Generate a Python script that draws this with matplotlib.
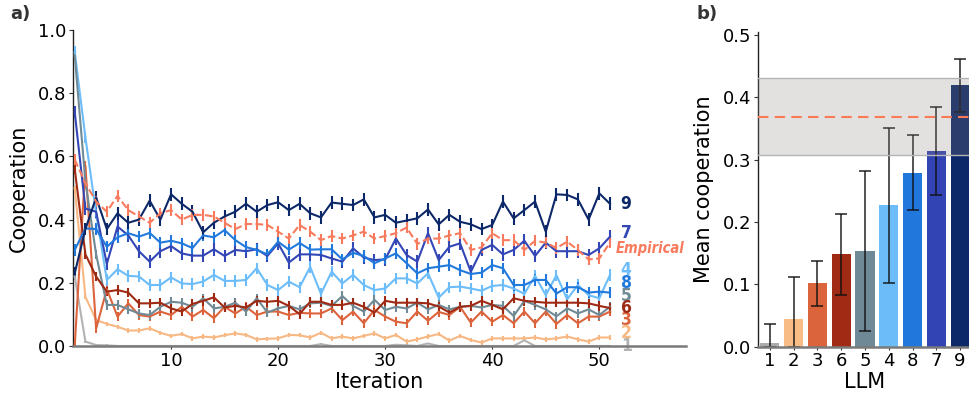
import matplotlib
matplotlib.use("Agg")
import matplotlib.pyplot as plt
from matplotlib import font_manager
import numpy as np

# ---------------- data ----------------
iterations = list(range(1, 52))

llm1 = [0.22, 0.014, 0.003, 0.002, 0.0, 0.0, 0.0, 0.0, 0.0, 0.0,
        0.0, 0.0, 0.0, 0.0, 0.0, 0.0, 0.0, 0.0, 0.0, 0.0,
        0.0, 0.0, 0.0, 0.006, 0.0, 0.0, 0.0, 0.0, 0.0, 0.0,
        0.004, 0.002, 0.0, 0.008, 0.0, 0.0, 0.0, 0.0, 0.0, 0.0,
        0.0, 0.0, 0.018, 0.0, 0.0, 0.0, 0.0, 0.0, 0.0, 0.0,
        0.0]
llm2 = [0.5, 0.156, 0.082, 0.07, 0.061, 0.049, 0.049, 0.056, 0.042, 0.032,
        0.038, 0.024, 0.03, 0.027, 0.034, 0.04, 0.035, 0.021, 0.023, 0.024,
        0.035, 0.034, 0.027, 0.042, 0.024, 0.03, 0.024, 0.032, 0.04, 0.024,
        0.035, 0.014, 0.021, 0.03, 0.038, 0.017, 0.032, 0.019, 0.011, 0.024,
        0.024, 0.024, 0.024, 0.027, 0.021, 0.024, 0.03, 0.021, 0.014, 0.027,
        0.027]
llm3 = [0.0, 0.57, 0.055, 0.18, 0.093, 0.135, 0.098, 0.093, 0.109, 0.098,
        0.124, 0.093, 0.114, 0.088, 0.124, 0.103, 0.124, 0.098, 0.109, 0.109,
        0.098, 0.105, 0.103, 0.103, 0.119, 0.082, 0.109, 0.072, 0.114, 0.093,
        0.077, 0.072, 0.109, 0.08, 0.108, 0.098, 0.124, 0.074, 0.109, 0.077,
        0.098, 0.072, 0.109, 0.072, 0.109, 0.07, 0.098, 0.072, 0.093, 0.093,
        0.109]
llm4 = [0.93, 0.66, 0.42, 0.209, 0.243, 0.222, 0.22, 0.193, 0.193, 0.217,
        0.198, 0.196, 0.204, 0.225, 0.206, 0.206, 0.209, 0.246, 0.193, 0.177,
        0.204, 0.186, 0.25, 0.165, 0.235, 0.198, 0.225, 0.193, 0.177, 0.182,
        0.214, 0.214, 0.198, 0.23, 0.153, 0.186, 0.188, 0.182, 0.175, 0.19,
        0.193, 0.182, 0.165, 0.222, 0.161, 0.224, 0.148, 0.193, 0.161, 0.151,
        0.225]
llm5 = [0.92, 0.52, 0.29, 0.13, 0.13, 0.116, 0.103, 0.098, 0.124, 0.14,
        0.137, 0.124, 0.151, 0.119, 0.124, 0.137, 0.109, 0.151, 0.106, 0.119,
        0.127, 0.116, 0.135, 0.137, 0.127, 0.158, 0.127, 0.109, 0.146, 0.114,
        0.124, 0.119, 0.137, 0.116, 0.13, 0.116, 0.124, 0.127, 0.122, 0.13,
        0.127, 0.095, 0.143, 0.13, 0.116, 0.094, 0.119, 0.103, 0.116, 0.098,
        0.124]
llm6 = [0.56, 0.29, 0.22, 0.172, 0.177, 0.169, 0.135, 0.135, 0.137, 0.119,
        0.109, 0.133, 0.143, 0.154, 0.122, 0.127, 0.122, 0.143, 0.14, 0.143,
        0.127, 0.101, 0.14, 0.14, 0.13, 0.13, 0.137, 0.124, 0.106, 0.143,
        0.137, 0.137, 0.137, 0.135, 0.125, 0.106, 0.124, 0.127, 0.143, 0.13,
        0.116, 0.151, 0.143, 0.14, 0.137, 0.137, 0.137, 0.137, 0.135, 0.127,
        0.12]
llm7 = [0.74, 0.435, 0.425, 0.26, 0.378, 0.35, 0.30, 0.267, 0.30, 0.316,
        0.293, 0.286, 0.286, 0.306, 0.285, 0.304, 0.30, 0.306, 0.285, 0.325,
        0.264, 0.29, 0.29, 0.288, 0.277, 0.267, 0.309, 0.28, 0.272, 0.274,
        0.34, 0.288, 0.267, 0.357, 0.272, 0.314, 0.325, 0.235, 0.304, 0.32,
        0.29, 0.304, 0.333, 0.285, 0.327, 0.30, 0.30, 0.30, 0.288, 0.309,
        0.346]
llm8 = [0.304, 0.372, 0.37, 0.314, 0.344, 0.357, 0.346, 0.358, 0.327, 0.333,
        0.325, 0.31, 0.35, 0.344, 0.367, 0.335, 0.313, 0.304, 0.29, 0.33,
        0.305, 0.326, 0.305, 0.306, 0.306, 0.274, 0.295, 0.285, 0.262, 0.277,
        0.293, 0.262, 0.23, 0.246, 0.251, 0.256, 0.24, 0.228, 0.232, 0.256,
        0.246, 0.193, 0.193, 0.209, 0.209, 0.166, 0.186, 0.186, 0.169, 0.172,
        0.169]
llm9 = [0.23, 0.37, 0.47, 0.37, 0.42, 0.39, 0.40, 0.46, 0.40, 0.48,
        0.45, 0.425, 0.36, 0.39, 0.41, 0.425, 0.45, 0.425, 0.446, 0.455,
        0.43, 0.45, 0.42, 0.407, 0.454, 0.45, 0.446, 0.464, 0.407, 0.415,
        0.39, 0.397, 0.404, 0.432, 0.385, 0.415, 0.393, 0.385, 0.37, 0.383,
        0.457, 0.404, 0.43, 0.457, 0.362, 0.48, 0.478, 0.464, 0.40, 0.483,
        0.45]
empirical = [0.59, 0.515, 0.457, 0.425, 0.475, 0.43, 0.41, 0.39, 0.42, 0.43,
             0.40, 0.415, 0.415, 0.41, 0.39, 0.37, 0.386, 0.386, 0.383, 0.362,
             0.34, 0.383, 0.362, 0.335, 0.348, 0.34, 0.35, 0.362, 0.34, 0.348,
             0.357, 0.375, 0.323, 0.34, 0.34, 0.35, 0.357, 0.304, 0.312, 0.357,
             0.335, 0.335, 0.304, 0.333, 0.327, 0.31, 0.33, 0.304, 0.274, 0.277,
             0.327]

series_names = ["1", "2", "3", "4", "5", "6", "7", "8", "9"]
series_values = [llm1, llm2, llm3, llm4, llm5, llm6, llm7, llm8, llm9]
series_sem = [0.003, 0.007, 0.015, 0.018, 0.015, 0.015, 0.02, 0.018, 0.02]
empirical_sem = 0.018

colors = {
    "1": "#b3b3b3", "2": "#f7b883", "3": "#dc643d", "4": "#6cbdf9",
    "5": "#708a96", "6": "#9f2a14", "7": "#3246b6", "8": "#2279dc",
    "9": "#0d2868", "Empirical": "#f87b5e",
}

# end-of-line label heights (cooperation units)
label_y = {"9": 0.45, "7": 0.358, "Empirical": 0.31, "4": 0.24, "8": 0.2,
           "5": 0.158, "6": 0.12, "3": 0.082, "2": 0.041, "1": 0.0}

# panel b: mean cooperation per LLM with confidence interval
bar_llms = ["1", "2", "3", "6", "5", "4", "8", "7", "9"]
bar_means = [0.006, 0.044, 0.102, 0.149, 0.154, 0.227, 0.279, 0.313, 0.42]
bar_ci_low = [0.0, 0.0, 0.066, 0.083, 0.025, 0.102, 0.219, 0.243, 0.377]
bar_ci_high = [0.036, 0.112, 0.138, 0.213, 0.282, 0.35, 0.34, 0.384, 0.462]
bar_colors = ["#acacac", "#f8bd86", "#dc643d", "#a02a14", "#6f8a96",
              "#6bbcf8", "#2177dc", "#3244b4", "#0c2869"]

empirical_mean = 0.368
empirical_ci = (0.307, 0.43)


def _is_bold(f):
    w = f.weight
    if isinstance(w, str):
        return w in ("bold", "semibold", "demibold", "heavy", "black", "extra bold")
    return w >= 600


def narrow_family():
    """Pick an installed condensed sans face, preferring one with bold italics."""
    fonts = font_manager.fontManager.ttflist
    best, best_score = None, -1
    for f in fonts:
        low = f.name.lower()
        condensed = "condensed" in low or "narrow" in low or \
            str(f.stretch) in ("condensed", "semi-condensed", "75", "87.5")
        if not condensed:
            continue
        faces = [g for g in fonts if g.name == f.name]
        score = 1
        score += 2 * any(_is_bold(g) for g in faces)
        score += 1 * any(g.style in ("italic", "oblique") for g in faces)
        score += 1 * any(_is_bold(g) and g.style in ("italic", "oblique") for g in faces)
        if score > best_score:
            best, best_score = f, score
    if best is None:
        return None, "normal"
    low = best.name.lower()
    stretch = "normal" if ("condensed" in low or "narrow" in low) else "condensed"
    return best.name, stretch


narrow, narrow_stretch = narrow_family()
label_family = [narrow, "DejaVu Sans"] if narrow else ["DejaVu Sans"]

# ---------------- figure ----------------
plt.rcParams["font.family"] = ["DejaVu Sans"]
fig = plt.figure(figsize=(9.7, 3.96), dpi=100)

axA = fig.add_axes([73 / 970, 50 / 396, 613 / 970, 316 / 396])
axB = fig.add_axes([758 / 970, 49.3 / 396, 214 / 970, 315 / 396])

for name, vals, sem in zip(series_names, series_values, series_sem):
    axA.errorbar(iterations, vals, yerr=sem, color=colors[name], lw=1.5,
                 elinewidth=1.5, capsize=0, zorder=3)
axA.errorbar(iterations, empirical, yerr=empirical_sem, color=colors["Empirical"],
             lw=1.5, ls="--", elinewidth=1.5, capsize=0, zorder=3)

label_font = dict(family=label_family, fontstretch=narrow_stretch, fontsize=12.5,
                  fontweight="bold", va="center", ha="left", clip_on=False)
for name in series_names:
    axA.text(52.0, label_y[name], name, color=colors[name], **label_font)
emp_font = dict(label_font)
emp_font["fontsize"] = 10.5
axA.text(51.5, label_y["Empirical"], "Empirical", color=colors["Empirical"],
         style="italic", **emp_font)

axA.set_xlim(0.84, 58.1)
axA.set_ylim(0, 1.0)
axA.set_xticks([10, 20, 30, 40, 50])
axA.set_yticks([0.0, 0.2, 0.4, 0.6, 0.8, 1.0])
axA.set_yticklabels(["0.0", "0.2", "0.4", "0.6", "0.8", "1.0"])
axA.set_xlabel("Iteration", fontsize=15, labelpad=2)
axA.set_ylabel("Cooperation", fontsize=15, labelpad=6)

# panel b
xpos = np.arange(len(bar_llms))
means = np.array(bar_means)
yerr = np.vstack([means - np.array(bar_ci_low), np.array(bar_ci_high) - means])
axB.bar(xpos, bar_means, width=0.8, color=bar_colors, zorder=2)
axB.errorbar(xpos, bar_means, yerr=yerr, fmt="none", ecolor="#111111",
             elinewidth=1.2, capsize=4, capthick=1.2, alpha=0.85, zorder=3)
axB.axhspan(empirical_ci[0], empirical_ci[1], facecolor="#8c837b", alpha=0.236,
            lw=0, zorder=4)
for yb in empirical_ci:
    axB.axhline(yb, color="#b5b5b5", lw=1.0, zorder=4)
axB.axhline(empirical_mean, color="#fa7a55", lw=1.5, ls=(0, (5, 3)), zorder=5)

axB.set_xlim(-0.5, 8.5)
axB.set_ylim(0, 0.505)
axB.set_xticks(xpos)
axB.set_xticklabels(bar_llms)
axB.set_yticks([0.0, 0.1, 0.2, 0.3, 0.4, 0.5])
axB.set_yticklabels(["0.0", "0.1", "0.2", "0.3", "0.4", "0.5"])
axB.set_xlabel("LLM", fontsize=15, labelpad=1)
axB.set_ylabel("Mean cooperation", fontsize=15, labelpad=6)

for ax in (axA, axB):
    ax.spines["top"].set_visible(False)
    ax.spines["right"].set_visible(False)
    ax.spines["left"].set_color("#222222")
    ax.spines["left"].set_linewidth(1.0)
    ax.spines["bottom"].set_color("#7a7a7a")
    ax.spines["bottom"].set_linewidth(1.8)
    ax.spines["bottom"].set_zorder(6)
    ax.tick_params(axis="both", labelsize=13, length=3, width=0.8,
                   color="#333333", pad=2)
    ax.tick_params(axis="x", length=2)

fig.text(10 / 970, 1 - 14 / 396, "a)", fontsize=13, fontweight="bold",
         color="#333333", va="center", ha="left")
fig.text(697 / 970, 1 - 14 / 396, "b)", fontsize=13, fontweight="bold",
         color="#333333", va="center", ha="left")

fig.savefig("out.png", dpi=100)
